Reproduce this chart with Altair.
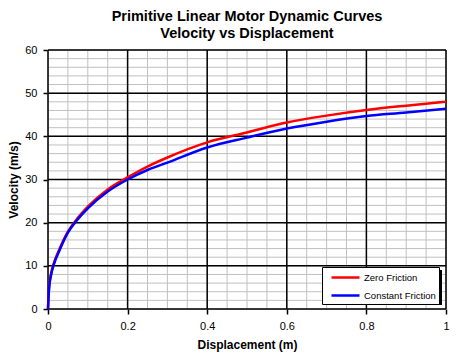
import altair as alt
import pandas as pd

# Data
disp = [0, 0.0025, 0.008, 0.015, 0.028, 0.05, 0.074, 0.1, 0.15, 0.2, 0.25, 0.3,
        0.4, 0.5, 0.6, 0.7, 0.8, 0.9, 1.0]
vel_zero = [0, 4.9, 8.3, 10.7, 13.7, 17.9, 21.0, 23.7, 27.7, 30.5, 33.0, 35.1,
            38.6, 40.9, 43.2, 44.8, 46.1, 47.1, 48.0]
vel_const = [0, 4.5, 8.0, 10.4, 13.4, 17.7, 20.7, 23.3, 27.2, 30.0, 32.2, 33.9,
             37.4, 39.7, 41.8, 43.4, 44.7, 45.5, 46.4]
series_names = ["Zero Friction", "Constant Friction"]
series_colors = ["#FF0000", "#0000FF"]

x_major = [0, 0.2, 0.4, 0.6, 0.8, 1.0]
x_minor = [round(i * 0.05, 2) for i in range(21)]
y_major = [0, 10, 20, 30, 40, 50, 60]
y_minor = list(range(0, 61, 2))

FONT = "Liberation Sans"

df = pd.DataFrame({
    "Displacement": disp * 2,
    "Velocity": vel_zero + vel_const,
    "Series": [series_names[0]] * len(disp) + [series_names[1]] * len(disp),
})

xscale = alt.Scale(domain=[0, 1], nice=False, zero=True)
yscale = alt.Scale(domain=[0, 60], nice=False)
cscale = alt.Scale(domain=series_names, range=series_colors)

xaxis = alt.Axis(values=x_major, grid=False, domain=False, ticks=True, tickSize=5,
                 tickColor="black", tickWidth=1.5, labelFont=FONT, labelFontSize=11,
                 labelColor="black", labelPadding=6, title="Displacement (m)",
                 titleFont=FONT, titleFontSize=12, titleFontWeight="bold",
                 titleColor="black", titlePadding=8, labelFlush=False,
                 labelExpr="datum.value == 0 ? '0' : datum.value == 1 ? '1' : format(datum.value, '.1f')")
yaxis = alt.Axis(values=y_major, grid=False, domain=False, ticks=True, tickSize=5,
                 tickColor="black", tickWidth=1.5, labelFont=FONT, labelFontSize=11,
                 labelColor="black", labelPadding=6, title="Velocity (m/s)",
                 titleFont=FONT, titleFontSize=12, titleFontWeight="bold",
                 titleColor="black", titlePadding=4, labelFlush=False)

xminor_df = pd.DataFrame({"v": x_minor})
yminor_df = pd.DataFrame({"v": y_minor})
xmajor_df = pd.DataFrame({"v": x_major})
ymajor_df = pd.DataFrame({"v": y_major})

gx_minor = alt.Chart(xminor_df).mark_rule(color="#C0C0C0", strokeWidth=1).encode(
    x=alt.X("v:Q", scale=xscale, axis=xaxis))
gy_minor = alt.Chart(yminor_df).mark_rule(color="#C0C0C0", strokeWidth=1).encode(
    y=alt.Y("v:Q", scale=yscale, axis=yaxis))
gx_major = alt.Chart(xmajor_df).mark_rule(color="black", strokeWidth=1.5).encode(
    x=alt.X("v:Q", scale=xscale))
gy_major = alt.Chart(ymajor_df).mark_rule(color="black", strokeWidth=1.5).encode(
    y=alt.Y("v:Q", scale=yscale))

# drop shadow behind the legend box
shadow = alt.Chart(pd.DataFrame({"a": [0]})).mark_rect(color="black").encode(
    x=alt.value(277), x2=alt.value(394), y=alt.value(220), y2=alt.value(255))

legend = alt.Legend(orient="none", legendX=274, legendY=217, title=None,
                    fillColor="white", strokeColor="black", padding=3,
                    symbolType="M-0.1667,0L4.5,0", symbolStrokeWidth=2.5, symbolSize=144,
                    labelFont=FONT, labelFontSize=9.5, labelColor="black",
                    labelOffset=24, rowPadding=5)

line_zero = alt.Chart(df).transform_filter(
    alt.datum.Series == series_names[0]).mark_line(strokeWidth=2.5, interpolate="monotone").encode(
    x=alt.X("Displacement:Q", scale=xscale),
    y=alt.Y("Velocity:Q", scale=yscale),
    color=alt.Color("Series:N", scale=cscale, legend=legend))
line_const = alt.Chart(df).transform_filter(
    alt.datum.Series == series_names[1]).mark_line(strokeWidth=2.5, interpolate="monotone").encode(
    x=alt.X("Displacement:Q", scale=xscale),
    y=alt.Y("Velocity:Q", scale=yscale),
    color=alt.Color("Series:N", scale=cscale, legend=legend))

chart = alt.layer(gx_minor, gy_minor, gx_major, gy_major, line_zero, line_const, shadow).properties(
    width=398, height=259,
    autosize=alt.AutoSizeParams(type="none"),
    padding={"left": 40, "top": 42, "right": 10, "bottom": 45},
    title=alt.TitleParams(text="Primitive Linear Motor Dynamic Curves",
                          subtitle="Velocity vs Displacement",
                          font=FONT, fontSize=14.5, fontWeight="bold", color="black",
                          subtitleFont=FONT, subtitleFontSize=14.5, subtitleFontWeight="bold",
                          subtitleColor="black", anchor="middle", offset=3,
                          subtitlePadding=2),
).configure_view(stroke="black", strokeWidth=3).configure(background="white")

chart.save("out.html", embed_options={"renderer": "svg", "actions": False})
